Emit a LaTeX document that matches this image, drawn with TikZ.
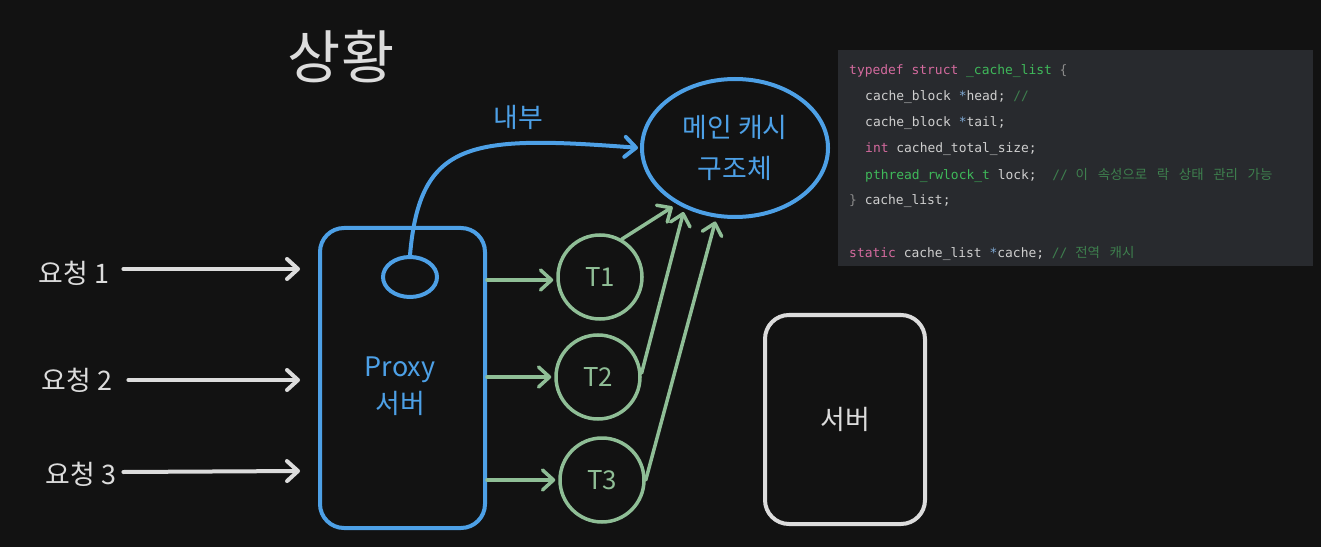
\documentclass[tikz,border=0pt]{standalone}
\usepackage{fontspec}
\setmainfont{Noto Sans CJK KR}
\newfontfamily\codefont{DejaVu Sans Mono}
\newfontfamily\krfont[WordSpace=3.2]{Noto Sans CJK KR}
\usetikzlibrary{arrows.meta,shapes.geometric}
\definecolor{bgdark}{HTML}{121212}
\definecolor{codebg}{HTML}{282A2E}
\definecolor{inkwhite}{HTML}{DCDCDC}
\definecolor{inkblue}{HTML}{4DA0E6}
\definecolor{inkgreen}{HTML}{8FBE96}
\definecolor{kwpink}{HTML}{D46A9E}
\definecolor{tygreen}{HTML}{3FB95A}
\definecolor{cmgreen}{HTML}{3E7F4E}
\definecolor{codetxt}{HTML}{CFCFCF}
\definecolor{punct}{HTML}{8A8A8A}
\definecolor{ptrblue}{HTML}{7FA8D2}
\newcommand{\kw}[1]{\textcolor{kwpink}{#1}}
\newcommand{\ty}[1]{\textcolor{tygreen}{#1}}
\newcommand{\cm}[1]{\textcolor{cmgreen}{#1}}
\newcommand{\pu}[1]{\textcolor{punct}{#1}}
\newcommand{\ptr}{\textcolor{ptrblue}{*}}
\newcommand{\ind}{\hspace*{16bp}}
\newcommand{\kr}[1]{{\krfont\fontsize{13.5}{15}\selectfont #1}}
\tikzset{
  lbl/.style={inner sep=0pt, font=\fontsize{27}{37}\selectfont},
  box/.style={draw, rounded corners=24bp, line width=4bp, inner sep=0pt},
  thread/.style={circle, draw=inkgreen, line width=3.5bp, text=inkgreen,
    minimum size=84bp, inner sep=0pt, font=\fontsize{26}{30}\selectfont},
  codeline/.style={anchor=west, inner sep=0pt, text=codetxt,
    font=\codefont\fontsize{13}{15}\selectfont},
  reqarrow/.style={->, draw=inkwhite, line width=4bp, line cap=round},
  tarrow/.style={->, draw=inkgreen, line width=3.5bp, line cap=round},
  barrow/.style={->, draw=inkblue, line width=4bp, line cap=round},
}
\begin{document}
\begin{tikzpicture}[x=1bp, y=-1bp,
    >={Straight Barb[length=11bp, width=20bp, line cap=round, line join=round]}]
    % background
    \fill[bgdark] (0,0) rectangle (1321,547);
    \useasboundingbox (0,0) rectangle (1321,547);
    % title
    \node[inner sep=0pt, text=inkwhite, font=\fontsize{58}{64}\selectfont] (title) at (341,57) {상황};
    % requests
    \node[lbl, text=inkwhite] (req1) at (74,273) {요청 1};
    \node[lbl, text=inkwhite] (req2) at (77,380) {요청 2};
    \node[lbl, text=inkwhite] (req3) at (81,474) {요청 3};
    % proxy server
    \node[box, draw=inkblue, minimum width=165bp, minimum height=300bp] (proxy) at (402.5,378) {};
    \node[lbl, text=inkblue, align=center] (proxytxt) at (400,386) {Proxy\\서버};
    \node[ellipse, draw=inkblue, line width=4bp, minimum width=54bp, minimum height=40bp, inner sep=0pt] (hook) at (410,277) {};
    % main cache
    \node[ellipse, draw=inkblue, line width=4bp, minimum width=186bp, minimum height=138bp,
      inner sep=0pt, align=center, text=inkblue, font=\fontsize{27}{42}\selectfont] (cache) at (735,148) {메인 캐시\\구조체};
    \node[lbl, text=inkblue] (inner) at (518,117) {내부};
    % threads
    \node[thread] (t1) at (600,277) {T1};
    \node[thread] (t2) at (598,377) {T2};
    \node[thread] (t3) at (602,480) {T3};
    % other server
    \node[box, draw=inkwhite, minimum width=160bp, minimum height=209bp, text=inkwhite,
      font=\fontsize{27}{37}\selectfont] (server) at (845,419.5) {서버};
    % request arrows
    \draw[reqarrow] ([xshift=14bp, yshift=4bp]req1.east) -- ([xshift=-18bp, yshift=4bp]req1.east -| proxy.west);
    \draw[reqarrow] ([xshift=16bp]req2.east) -- ([xshift=-18bp]req2.east -| proxy.west);
    \draw[reqarrow] ([xshift=7bp, yshift=2bp]req3.east) -- ([xshift=-18bp, yshift=3bp]req3.east -| proxy.west);
    % proxy -> threads
    \draw[tarrow, shorten >=3bp] ([yshift=-3bp]t1 -| proxy.east) -- ([yshift=-3bp]t1.west);
    \draw[tarrow, shorten >=3bp] (t2 -| proxy.east) -- (t2.west);
    \draw[tarrow, shorten >=3bp] (t3 -| proxy.east) -- (t3.west);
    % threads -> cache
    \draw[tarrow, shorten >=5bp] (t1.60) -- (cache.224);
    \draw[tarrow, shorten >=4bp] (t2.5) -- (cache.230);
    \draw[tarrow, shorten >=4bp] (t3.east) -- (cache.255);
    % internal link
    \draw[barrow, shorten >=2bp] (hook.north) .. controls (420,140) and (470,135) .. (cache.west);
    % code block
    \fill[codebg] (838,50) rectangle (1313,266);
    \node[codeline] (c1) at (849,71) {\kw{typedef} \kw{struct} \ty{\_cache\_list} \pu{\{}};
    \node[codeline] (c2) at (849,97) {\ind cache\_block \ptr head; \cm{//}};
    \node[codeline] (c3) at (849,123) {\ind cache\_block \ptr tail;};
    \node[codeline] (c4) at (849,149) {\ind\kw{int} cached\_total\_size;};
    \node[codeline] (c5) at (849,175) {\ind\ty{pthread\_rwlock\_t} lock;\ \ \cm{// \kr{이 속성으로 락 상태 관리 가능}}};
    \node[codeline] (c6) at (849,201) {\pu{\}} cache\_list;};
    \node[codeline] (c7) at (849,253) {\kw{static} cache\_list \ptr cache; \cm{// \kr{전역 캐시}}};
\end{tikzpicture}
\end{document}
